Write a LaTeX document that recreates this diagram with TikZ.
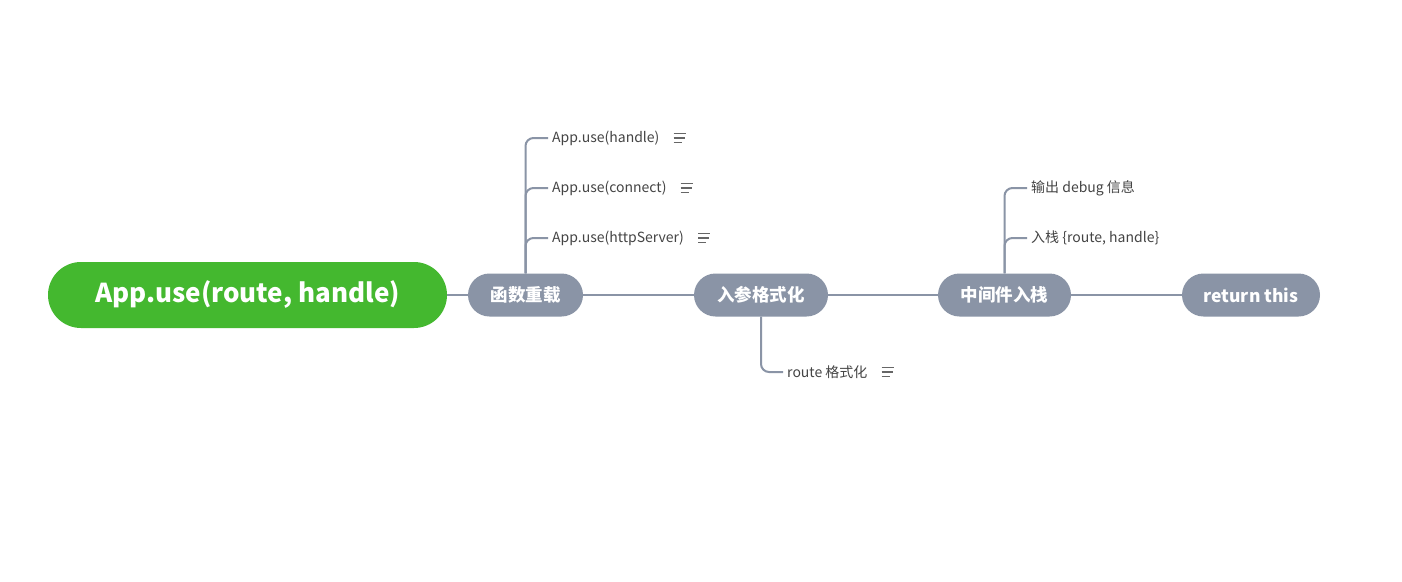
\documentclass[tikz,border=0pt]{standalone}
\usepackage{fontspec}
\setmainfont{Noto Sans CJK SC}
\begin{document}
\begin{tikzpicture}[x=1pt,y=-1pt,
  rootbox/.style={fill=rootgreen,text=white,rounded corners=33pt,minimum width=399pt,minimum height=66pt,font=\fontsize{26}{28}\selectfont\bfseries,inner sep=0pt},
  topic/.style={fill=topicgray,text=white,rounded corners=21.5pt,minimum height=43pt,font=\fontsize{17.5}{19}\selectfont\bfseries,inner sep=0pt},
  leaf/.style={anchor=west,inner xsep=4pt,inner ysep=2pt,text=leaftext,font=\fontsize{14}{16}\selectfont},
  link/.style={draw=linegray,line width=2pt},
  branch/.style={draw=linegray,line width=2pt,rounded corners=8pt},
  noteicon/.pic={\draw[draw=icongray,line width=1.2pt] (0,-4.5) -- (12,-4.5) (0,0) -- (11,0) (0,4.5) -- (8,4.5);}
]
\definecolor{rootgreen}{HTML}{44B82F}
\definecolor{topicgray}{HTML}{8A94A6}
\definecolor{linegray}{HTML}{8A94A6}
\definecolor{leaftext}{HTML}{444444}
\definecolor{icongray}{HTML}{666666}
\path[fill=white] (0,0) rectangle (1402,581);

\node[rootbox] (root) at (247.5,295) {App.use(route, handle)};
\node[topic,minimum width=115pt] (n1) at (525.5,295) {函数重载};
\node[topic,minimum width=134pt] (n2) at (761,295) {入参格式化};
\node[topic,minimum width=133pt] (n3) at (1004.5,295) {中间件入栈};
\node[topic,minimum width=138pt] (n4) at (1251,295) {return this};

\draw[link] (root.east) -- (n1.west);
\draw[link] (n1.east) -- (n2.west);
\draw[link] (n2.east) -- (n3.west);
\draw[link] (n3.east) -- (n4.west);

\node[leaf] (a1) at (548,138) {App.use(handle)};
\node[leaf] (a2) at (548,188) {App.use(connect)};
\node[leaf] (a3) at (548,238) {App.use(httpServer)};
\draw[branch] (n1.north) |- (a1.west);
\draw[branch] (n1.north) |- (a2.west);
\draw[branch] (n1.north) |- (a3.west);
\pic at ([xshift=10pt]a1.east) {noteicon};
\pic at ([xshift=10pt]a2.east) {noteicon};
\pic at ([xshift=10pt]a3.east) {noteicon};

\node[leaf] (b1) at (783,372) {route 格式化};
\draw[branch] (n2.south) |- (b1.west);
\pic at ([xshift=10pt]b1.east) {noteicon};

\node[leaf] (c1) at (1027,188) {输出 debug 信息};
\node[leaf] (c2) at (1027,238) {入栈 \{route, handle\}};
\draw[branch] (n3.north) |- (c1.west);
\draw[branch] (n3.north) |- (c2.west);
\end{tikzpicture}
\end{document}
